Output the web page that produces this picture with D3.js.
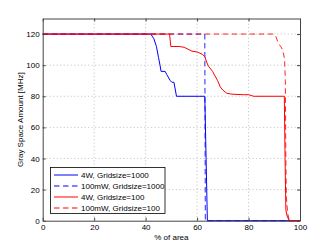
<!DOCTYPE html>
<html><head><meta charset="utf-8">
<script src="https://cdn.jsdelivr.net/npm/d3@7"></script>
<style>body{margin:0;background:#fff}svg{display:block}text{font-family:"Liberation Sans",Arial,sans-serif}</style>
</head><body>
<script>
const seriesNames = ["4W, Gridsize=1000","100mW, Gridsize=1000","4W, Gridsize=100","100mW, Gridsize=100"];
const seriesColors = ["#0000ff","#0000ff","#ff0000","#ff0000"];
const seriesDash = [null,"5.5,3.5",null,"5.5,3.5"];
const s1x = [0,42,43.2,44.2,45,45.6,46,47.6,48.2,49.6,50.2,51,52,63,64,100];
const s1y = [120,120,117,112,105,100,96,96,94,90,89,89,80,80,0,0];
const s2x = [0,63,63.2,64,100];
const s2y = [120,120,0,0,0];
const s3x = [0,49.3,49.8,53,55,58,60,62,63,63.7,64.4,66,67,68,69,70,71.5,73,74,78,80,82,93.9,94.2,94.5,95,95.8,100];
const s3y = [120,120,112,112,111.5,109,108.5,107,105.5,102,99.4,96,93,90,86,84,82,81.5,81.3,81,81,80,80,40,7,3,0,0];
const s4x = [0,89.5,90.5,91.6,92.5,93.3,94,94.3,94.5,94.7,95.2,95.7,96.1,100];
const s4y = [120,120,119,114,112,109.7,104,90,40,15,5,1,0,0];
const xTicks = [0,20,40,60,80,100];
const yTicks = [0,20,40,60,80,100,120];

const W=331,H=249;
const m={l:42.7,r:31,t:18.5,b:28.3};
const svg=d3.select("body").append("svg").attr("width",W).attr("height",H);
const x=d3.scaleLinear().domain([0,100]).range([m.l,W-m.r]);
const y=d3.scaleLinear().domain([0,130]).range([H-m.b,m.t]);
const FS="8px";

// grid
const g=svg.append("g");
g.selectAll(".gx").data(xTicks.slice(1,-1)).join("line")
 .attr("x1",d=>x(d)).attr("x2",d=>x(d)).attr("y1",y(0)).attr("y2",y(130))
 .attr("stroke","#b0b0b0").attr("stroke-width",0.8).attr("stroke-dasharray","1,2.5");
g.selectAll(".gy").data(yTicks.slice(1)).join("line")
 .attr("y1",d=>y(d)).attr("y2",d=>y(d)).attr("x1",x(0)).attr("x2",x(100))
 .attr("stroke","#b0b0b0").attr("stroke-width",0.8).attr("stroke-dasharray","1,2.5");

// lines
const data=[[s1x,s1y],[s2x,s2y],[s3x,s3y],[s4x,s4y]];
const line=d3.line().x(d=>x(d[0])).y(d=>y(d[1]));
data.forEach((s,i)=>{
 const pts=s[0].map((v,j)=>[v,s[1][j]]);
 svg.append("path").attr("d",line(pts)).attr("fill","none")
  .attr("stroke",seriesColors[i]).attr("stroke-width",1)
  .attr("stroke-dasharray",seriesDash[i]).attr("stroke-opacity",i%2?0.85:1);
});

// axes
const xa=svg.append("g").attr("transform",`translate(0,${y(0)})`)
 .call(d3.axisBottom(x).tickValues(xTicks).tickSizeInner(-3).tickSizeOuter(0).tickPadding(4));
const xa2=svg.append("g").attr("transform",`translate(0,${y(130)})`)
 .call(d3.axisTop(x).tickValues(xTicks).tickSizeInner(-3).tickSizeOuter(0).tickFormat(""));
const ya=svg.append("g").attr("transform",`translate(${x(0)},0)`)
 .call(d3.axisLeft(y).tickValues(yTicks).tickSizeInner(-3).tickSizeOuter(0).tickPadding(3));
const ya2=svg.append("g").attr("transform",`translate(${x(100)},0)`)
 .call(d3.axisRight(y).tickValues(yTicks).tickSizeInner(-3).tickSizeOuter(0).tickFormat(""));
[xa,xa2,ya,ya2].forEach(a=>{a.select(".domain").attr("stroke","#444").attr("stroke-width",1);
 a.selectAll(".tick line").attr("stroke","#444").attr("stroke-width",1);
 a.selectAll("text").attr("font-size",FS).attr("fill","#000").attr("font-family","Liberation Sans, Arial, sans-serif");});

// labels
svg.append("text").attr("x",(x(0)+x(100))/2).attr("y",240).attr("text-anchor","middle")
 .attr("font-size",FS).text("% of area");
svg.append("text").attr("transform",`translate(23,${(y(0)+y(130))/2}) rotate(-90)`).attr("text-anchor","middle")
 .attr("font-size",FS).text("Gray Space Amount [MHz]");

// legend
const lg=svg.append("g");
lg.append("rect").attr("x",50.5).attr("y",167.5).attr("width",114.5).attr("height",46)
 .attr("fill","#fff").attr("stroke","#000").attr("stroke-width",0.8);
seriesNames.forEach((n,i)=>{
 const yy=175+i*11;
 lg.append("line").attr("x1",54).attr("x2",78).attr("y1",yy).attr("y2",yy)
  .attr("stroke",seriesColors[i]).attr("stroke-width",1).attr("stroke-dasharray",seriesDash[i]);
 lg.append("text").attr("x",81).attr("y",yy+3).attr("font-size",FS).text(n);
});
</script>
</body></html>
